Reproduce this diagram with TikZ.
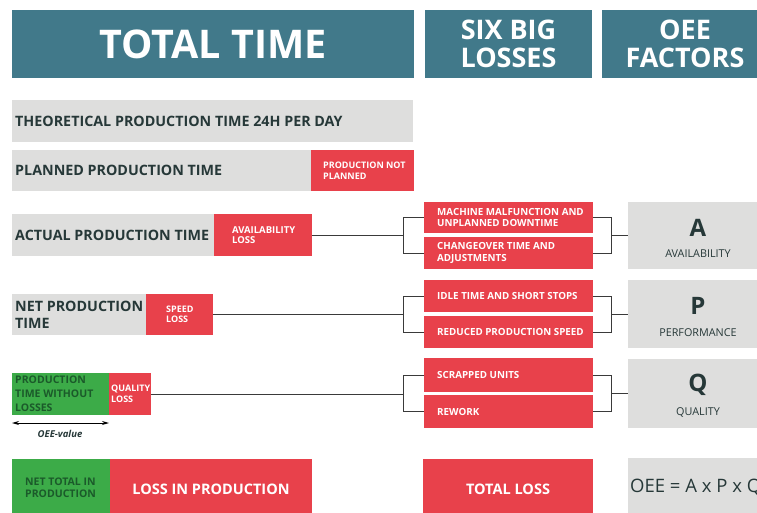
\documentclass[tikz,border=0pt]{standalone}
\usepackage{fontspec}
\setmainfont{Open Sans}
\usetikzlibrary{arrows.meta,calc}
\definecolor{teal}{HTML}{41798A}
\definecolor{lred}{HTML}{E8414B}
\definecolor{lgray}{HTML}{DEDEDD}
\definecolor{lgreen}{HTML}{3CAB48}
\definecolor{dtext}{HTML}{263838}
\definecolor{gtext}{HTML}{1B5A2A}
\definecolor{lline}{HTML}{3A3A3A}
\newcommand{\fs}[2]{\fontsize{#1}{#2}\selectfont}
\tikzset{
  base/.style={inner sep=0pt, outer sep=0pt, anchor=north west, font=\bfseries},
  head/.style={base, fill=teal, text=white, align=center},
  grayb/.style={base, fill=lgray},
  redb/.style={base, fill=lred},
  greenb/.style={base, fill=lgreen},
  lbl/.style={anchor=west, inner sep=0pt, align=left},
  bigl/.style={lbl, text=dtext, font=\bfseries\fs{14.3}{17}},
  smallw/.style={lbl, text=white, font=\bfseries\fs{9}{10.5}},
  midw/.style={lbl, text=white, font=\bfseries\fs{9.8}{11.5}},
  conn/.style={draw=lline, line width=0.9pt},
  letter/.style={inner sep=0pt, text=dtext, font=\bfseries\fs{24}{24}},
  flabel/.style={inner sep=0pt, text=dtext, font=\fs{10.8}{12}},
}
\begin{document}
\begin{tikzpicture}[x=1pt,y=-1pt]
\clip (0,0) rectangle (757,513);
\fill[white] (0,0) rectangle (757,513);
% headers
\node[head, minimum width=402pt, minimum height=68pt, font=\bfseries\fs{39.5}{40}] (tt) at (12,10) {TOTAL TIME};
\node[head, minimum width=167pt, minimum height=68pt, font=\bfseries\fs{27}{28}] (sbl) at (425,10) {SIX BIG\\LOSSES};
\node[head, minimum width=166pt, minimum height=68pt, font=\bfseries\fs{27}{28}] (oeeh) at (602,10) {OEE\\FACTORS};
% left column boxes
\node[grayb, minimum width=401pt, minimum height=42pt] (theo) at (12,100) {};
\node[grayb, minimum width=299pt, minimum height=41pt] (plan) at (12,150) {};
\node[redb, minimum width=103pt, minimum height=41pt] (npl) at (311,150) {};
\node[grayb, minimum width=202pt, minimum height=42pt] (act) at (12,214) {};
\node[redb, minimum width=98pt, minimum height=42pt] (al) at (214,214) {};
\node[grayb, minimum width=134pt, minimum height=41pt] (net) at (12,294) {};
\node[redb, minimum width=67pt, minimum height=41pt] (sl) at (146,294) {};
\node[greenb, minimum width=97pt, minimum height=42pt] (ptw) at (12,373) {};
\node[redb, minimum width=42pt, minimum height=42pt] (ql) at (109,373) {};
% left column labels
\node[bigl] (ttheo) at ($(theo.west)+(3,0)$) {THEORETICAL PRODUCTION TIME 24H PER DAY};
\node[bigl] (tplan) at ($(plan.west)+(3,0)$) {PLANNED PRODUCTION TIME};
\node[smallw] (tnpl) at ($(npl.west)+(12,0)$) {PRODUCTION NOT\\PLANNED};
\node[bigl] (tact) at ($(act.west)+(3,0)$) {ACTUAL PRODUCTION TIME};
\node[smallw, font=\bfseries\fs{9.5}{10.5}] (tal) at ($(al.west)+(18,0)$) {AVAILABILITY\\LOSS};
\node[bigl, font=\bfseries\fs{14.3}{17}] (tnet) at ($(net.west)+(3,0)$) {NET PRODUCTION\\TIME};
\node[smallw] (tsl) at ($(sl.west)+(20,0)$) {SPEED\\LOSS};
\node[lbl, text=gtext, font=\bfseries\fs{10.5}{14}] (tptw) at ($(ptw.west)+(3,0)$) {PRODUCTION\\TIME WITHOUT\\LOSSES};
\node[lbl, text=white, font=\bfseries\fs{9}{11}] (tql) at ($(ql.west)+(2,0)$) {QUALITY\\LOSS};
\coordinate (oa) at (12,423);
\coordinate (ob) at (109,423);
\draw[line width=1pt, {Stealth[length=7pt,width=4pt]}-{Stealth[length=7pt,width=4pt]}] (oa) -- (ob);
\node[inner sep=0pt, text=dtext, font=\bfseries\itshape\fs{9.5}{12}] (oeev) at (60,434) {OEE-value};
% six big losses
\node[redb, minimum width=169pt, minimum height=31pt] (m1) at (424,202) {};
\node[redb, minimum width=169pt, minimum height=32pt] (m2) at (424,237) {};
\node[redb, minimum width=169pt, minimum height=32pt] (m3) at (424,280) {};
\node[redb, minimum width=169pt, minimum height=32pt] (m4) at (424,316) {};
\node[redb, minimum width=169pt, minimum height=34pt] (m5) at (424,358) {};
\node[redb, minimum width=169pt, minimum height=33pt] (m6) at (424,395) {};
\node[midw] (tm1) at ($(m1.west)+(13,0)$) {MACHINE MALFUNCTION AND\\UNPLANNED DOWNTIME};
\node[midw] (tm2) at ($(m2.west)+(13,0)$) {CHANGEOVER TIME AND\\ADJUSTMENTS};
\node[midw] (tm3) at ($(m3.west)+(13,0)$) {IDLE TIME AND SHORT STOPS};
\node[midw] (tm4) at ($(m4.west)+(13,0)$) {REDUCED PRODUCTION SPEED};
\node[midw] (tm5) at ($(m5.west)+(13,0)$) {SCRAPPED UNITS};
\node[midw] (tm6) at ($(m6.west)+(13,0)$) {REWORK};
% factors
\node[grayb, minimum width=140pt, minimum height=67pt] (fa) at (628,202) {};
\node[grayb, minimum width=140pt, minimum height=68pt] (fp) at (628,280) {};
\node[grayb, minimum width=140pt, minimum height=69pt] (fq) at (628,359) {};
\node[letter] (la) at ($(fa.north)+(0,26)$) {A};
\node[flabel] (ta) at ($(fa.north)+(0,52)$) {AVAILABILITY};
\node[letter] (lp) at ($(fp.north)+(0,26)$) {P};
\node[flabel] (tp) at ($(fp.north)+(0,53)$) {PERFORMANCE};
\node[letter] (lq) at ($(fq.north)+(0,26)$) {Q};
\node[flabel] (tq) at ($(fq.north)+(0,53)$) {QUALITY};
% bottom row
\node[greenb, minimum width=98pt, minimum height=60pt] (ntp) at (12,459) {};
\node[lbl, text=gtext, font=\bfseries\fs{10.5}{12}] (tntp) at ($(ntp.west)+(13,-1)$) {NET TOTAL IN\\PRODUCTION};
\node[redb, minimum width=202pt, minimum height=60pt, text=white, font=\bfseries\fs{14.5}{16}] (lip) at (110,459) {LOSS IN PRODUCTION};
\node[redb, minimum width=170pt, minimum height=60pt, text=white, font=\bfseries\fs{14.5}{16}] (tl) at (423,459) {TOTAL LOSS};
\node[grayb, minimum width=140pt, minimum height=60pt] (fo) at (628,458) {};
\node[anchor=west, inner sep=0pt, text=dtext, font=\fs{18.5}{20}] (oeeq) at (630,487) {OEE = A x P x Q};
% connectors
\coordinate (L) at (403,0);
\coordinate (R) at (611,0);
\draw[conn] (m1.west) -| (L |- m2.west) -- (m2.west);
\draw[conn] (al.east) -- (L |- al.east);
\draw[conn] (m1.east) -| (R |- m2.east) -- (m2.east);
\draw[conn] (R |- fa.west) -- (fa.west);
\draw[conn] (m3.west) -| (L |- m4.west) -- (m4.west);
\draw[conn] (sl.east) -- (L |- sl.east);
\draw[conn] (m3.east) -| (R |- m4.east) -- (m4.east);
\draw[conn] (R |- fp.west) -- (fp.west);
\draw[conn] (m5.west) -| (L |- m6.west) -- (m6.west);
\draw[conn] (ql.east) -- (L |- ql.east);
\draw[conn] (m5.east) -| (R |- m6.east) -- (m6.east);
\draw[conn] (R |- fq.west) -- (fq.west);
\end{tikzpicture}
\end{document}
